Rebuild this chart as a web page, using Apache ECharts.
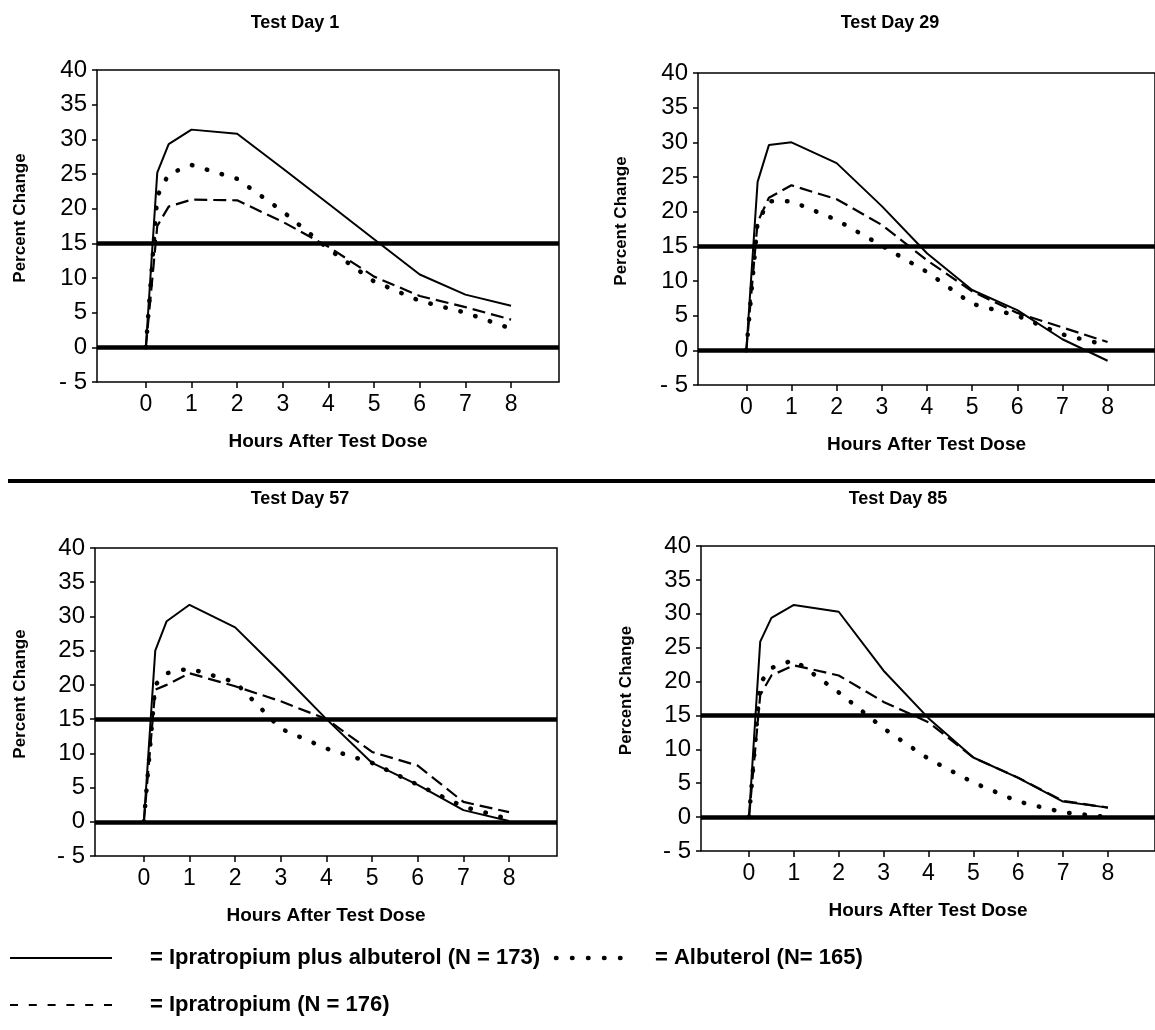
<!DOCTYPE html>
<html>
<head>
<meta charset="utf-8">
<script src="https://cdn.jsdelivr.net/npm/echarts@6.0.0/dist/echarts.min.js"></script>
<style>
html, body { margin: 0; padding: 0; background: #fff; }
#main { width: 1155px; height: 1030px; }
</style>
</head>
<body>
<div id="main"></div>
<script>
// time points (hours after test dose)
var hours = [0, 0.25, 0.5, 1, 2, 3, 4, 5, 6, 7, 8];
var hourTicks = [0, 1, 2, 3, 4, 5, 6, 7, 8];
var panelTitles = ['Test Day 1', 'Test Day 29', 'Test Day 57', 'Test Day 85'];
var refLevels = [0, 15];

// Ipratropium plus albuterol (N = 173)
var comboDay1 = [0, 25.2, 29.3, 31.4, 30.8, 25.8, 20.7, 15.6, 10.5, 7.6, 6.0];
var comboDay29 = [0, 24.3, 29.6, 30.0, 27.0, 20.8, 14.0, 8.7, 5.8, 1.6, -1.5];
var comboDay57 = [0, 25.0, 29.3, 31.7, 28.4, 21.8, 15.0, 8.6, 5.4, 1.7, 0.1];
var comboDay85 = [0, 25.9, 29.4, 31.3, 30.3, 21.6, 14.6, 8.8, 5.8, 2.3, 1.4];

// Albuterol (N = 165)
var albuDay1 = [0, 21.8, 25.0, 26.3, 24.3, 19.6, 14.2, 9.5, 6.7, 5.0, 2.7];
var albuDay29 = [0, 18.5, 21.5, 21.5, 18.8, 15.1, 11.3, 6.7, 5.0, 2.3, 0.7];
var albuDay57 = [0, 20.0, 21.7, 22.4, 20.4, 13.6, 10.7, 8.6, 5.4, 2.2, 0.4];
var albuDay85 = [0, 19.8, 22.0, 23.2, 18.4, 13.1, 8.6, 5.1, 2.3, 0.7, 0];

// Ipratropium (N = 176)
var ipraDay1 = [0, 17.5, 20.3, 21.3, 21.2, 18.1, 14.5, 10.2, 7.4, 5.8, 4.0];
var ipraDay29 = [0, 18.5, 22.0, 23.8, 21.8, 18.1, 13.0, 8.5, 5.4, 3.3, 1.2];
var ipraDay57 = [0, 19.3, 20.0, 21.7, 19.8, 17.6, 15.0, 10.2, 8.2, 2.9, 1.4];
var ipraDay85 = [0, 18.0, 20.9, 22.4, 20.9, 17.0, 14.0, 8.8, 5.8, 2.4, 1.4];

var comboAll = [comboDay1, comboDay29, comboDay57, comboDay85];
var albuAll = [albuDay1, albuDay29, albuDay57, albuDay85];
var ipraAll = [ipraDay1, ipraDay29, ipraDay57, ipraDay85];

var legendNames = ['= Ipratropium plus albuterol (N = 173)', '= Albuterol (N= 165)', '= Ipratropium (N = 176)'];

// plot boxes
var boxes = [
    {left: 97, top: 70, width: 462, height: 312},
    {left: 698, top: 73, width: 470, height: 312},
    {left: 95, top: 548, width: 462, height: 308},
    {left: 701, top: 546, width: 470, height: 305}
];
var titleCenters = [[290, 9], [885, 9], [295, 485], [893, 485]];
var nameLefts = [20, 621, 20, 626];

var FONT = '"Liberation Sans", Arial, sans-serif';

function pairs(values) {
    var out = [];
    for (var i = 0; i < hours.length; i++) {
        out.push([hours[i], values[i]]);
    }
    return out;
}

var grids = [], xAxes = [], yAxes = [], series = [], titles = [];

for (var p = 0; p < 4; p++) {
    var b = boxes[p];
    grids.push({
        left: b.left, top: b.top, width: b.width, height: b.height,
        show: true, borderColor: '#000', borderWidth: 1.5
    });
    titles.push({
        text: panelTitles[p],
        left: titleCenters[p][0], top: titleCenters[p][1], textAlign: 'center',
        textStyle: {fontFamily: FONT, fontSize: 18, fontWeight: 'bold', color: '#000'}
    });
    xAxes.push({
        gridIndex: p, type: 'value', min: -1.07, max: 9.05,
        axisLine: {show: false, onZero: false},
        splitLine: {show: false},
        axisTick: {show: true, customValues: hourTicks, length: 6, lineStyle: {color: '#000', width: 1.5}},
        axisLabel: {customValues: hourTicks, fontFamily: FONT, fontSize: 23, color: '#000', margin: 11},
        name: 'Hours After Test Dose', nameLocation: 'middle', nameGap: 50,
        nameTextStyle: {fontFamily: FONT, fontSize: 19, fontWeight: 'bold', color: '#000'}
    });
    yAxes.push({
        gridIndex: p, type: 'value', min: -5, max: 40, interval: 5,
        axisLine: {show: false, onZero: false},
        splitLine: {show: false},
        axisTick: {show: true, length: 5, lineStyle: {color: '#000', width: 1.5}},
        axisLabel: {
            fontFamily: FONT, fontSize: 24, color: '#000', margin: 10,
            formatter: function (v) { return v < 0 ? '- ' + (-v) : String(v); }
        }
    });

    // solid line with the two thick reference lines
    series.push({
        type: 'line', xAxisIndex: p, yAxisIndex: p, data: pairs(comboAll[p]),
        showSymbol: false, lineStyle: {color: '#000', width: 2}, z: 4,
        markLine: {
            silent: true, symbol: 'none', label: {show: false},
            lineStyle: {color: '#000', width: 4.5, type: 'solid'},
            data: refLevels.map(function (v) { return {yAxis: v}; })
        }
    });
    // dotted: albuterol
    series.push({
        type: 'line', xAxisIndex: p, yAxisIndex: p, data: pairs(albuAll[p]),
        showSymbol: false, z: 3,
        lineStyle: {color: '#000', width: 4.5, type: [0.5, 15], cap: 'round'}
    });
    // dashed: ipratropium
    series.push({
        type: 'line', xAxisIndex: p, yAxisIndex: p, data: pairs(ipraAll[p]),
        showSymbol: false, z: 3,
        lineStyle: {color: '#000', width: 2.2, type: [13, 6]}
    });
}

function label(txt, x, y, size, rot) {
    return {
        type: 'text', x: x, y: y, rotation: rot || 0,
        style: {text: txt, font: 'bold ' + size + 'px ' + FONT, fill: '#000', align: 'center', verticalAlign: 'middle'}
    };
}

var LEG = 'bold 22px ' + FONT;
var graphics = [
    // separator between top and bottom rows
    {type: 'line', shape: {x1: 8, y1: 481, x2: 1155, y2: 481}, style: {stroke: '#000', lineWidth: 4}},
    // legend samples
    {type: 'line', shape: {x1: 10, y1: 958, x2: 112, y2: 958}, style: {stroke: '#000', lineWidth: 2}},
    {type: 'line', shape: {x1: 556, y1: 958, x2: 626, y2: 958}, style: {stroke: '#000', lineWidth: 4.5, lineDash: [0.5, 15.5], lineCap: 'round'}},
    {type: 'line', shape: {x1: 10, y1: 1005, x2: 112, y2: 1005}, style: {stroke: '#000', lineWidth: 2, lineDash: [8, 10.8]}},
    {type: 'text', x: 150, y: 958, style: {text: legendNames[0], font: LEG, fill: '#000', verticalAlign: 'middle'}},
    {type: 'text', x: 655, y: 958, style: {text: legendNames[1], font: LEG, fill: '#000', verticalAlign: 'middle'}},
    {type: 'text', x: 150, y: 1005, style: {text: legendNames[2], font: LEG, fill: '#000', verticalAlign: 'middle'}}
];
for (var q = 0; q < 4; q++) {
    var bb = boxes[q];
    graphics.push(label('Percent Change', nameLefts[q], bb.top + bb.height / 2 - 8, 17, Math.PI / 2));
}

var chart = echarts.init(document.getElementById('main'), null, {renderer: 'canvas'});
chart.setOption({
    backgroundColor: '#fff',
    animation: false,
    title: titles,
    grid: grids,
    xAxis: xAxes,
    yAxis: yAxes,
    series: series,
    graphic: graphics
});
</script>
</body>
</html>
